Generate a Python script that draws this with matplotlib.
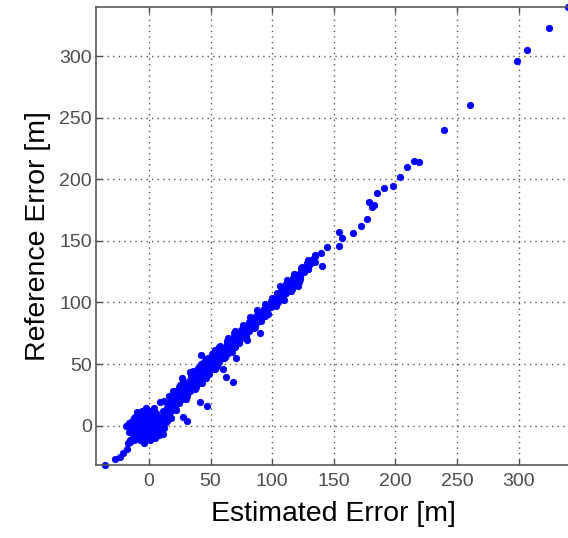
import matplotlib
matplotlib.use("Agg")
import matplotlib.pyplot as plt

# dense cluster around the origin
cluster_est = [-19, -17, -16, -15, -14, -13, -12, -12, -11, -10, -10, -9, -8, -8, -7, -6, -6, -5, -5,
               -4, -4, -3, -2, -2, -1, -1, 0, 0, 0, 1, 1, 2, 2, 3, 3, 4, 4, 5, 5, 6, 6, 7, 8, 8,
               9, 10, 10, 11, 12, 12, 13, 14, -14, -11, -9, -7, -3, 1, 5, 9, 13, -16, -12, -6,
               -2, 2, 7, 11, 15, 16, 17, 18, -13, -9, -5, -1, 3, 7, 11, -10, -6, -2, 2, 6, 10, 14]
cluster_ref = [0, -14, -5, -12, 4, -8, -12, -3, 7, -10, 2, 8, -5, -1, -12, 5, 12, -8, 3,
               -14, 10, 0, -4, 14, -7, 6, -10, -2, 3, -12, 12, -6, 8, -9, 1, -3, 14, -10, 5, -6, 10, -1, -8, 3,
               7, -4, 0, 12, -2, 5, 2, 8, -2, -6, -9, 1, 9, -3, 0, -2, 11, 2, 6, -4,
               -11, -9, 4, 9, 4, 10, 14, 6, 0, -2, 6, 2, -5, 4, -7, 11, 9, 10, 0, 1, 6, 11]

# main band along the diagonal
band_est = [15, 15, 15, 18, 18, 18, 21, 21, 21, 21, 24, 24, 24, 27, 27, 27, 27, 30, 30, 30,
            33, 33, 33, 36, 36, 36, 36, 39, 39, 39, 42, 42, 42, 42, 45, 45, 45, 45,
            48, 48, 48, 48, 51, 51, 51, 51, 54, 54, 54, 54, 57, 57, 57, 57, 60, 60, 60,
            63, 63, 63, 63, 66, 66, 66, 69, 69, 69, 69, 72, 72, 72, 75, 75, 75,
            78, 78, 78, 81, 81, 81, 84, 84, 84, 87, 87, 87, 90, 90, 90, 93, 93, 93,
            96, 96, 96, 99, 99, 99, 102, 102, 105, 105, 105, 108, 108, 108,
            111, 111, 111, 114, 114, 114, 117, 117, 117, 120, 120, 120, 123, 123, 123,
            126, 126, 129, 131, 133, 135, 19, 23, 26, 29, 32, 35, 38, 41, 44, 47, 50,
            53, 56, 59, 62, 65, 68]
band_ref = [10, 18, 14, 12, 20, 16, 15, 22, 19, 26, 18, 24, 28, 22, 26, 30, 34, 25, 29, 33,
            28, 32, 37, 31, 35, 40, 44, 34, 38, 42, 37, 41, 45, 50, 40, 44, 48, 52,
            43, 47, 51, 55, 46, 50, 54, 58, 49, 53, 57, 61, 52, 56, 60, 64, 55, 59, 63,
            58, 62, 66, 69, 61, 65, 69, 64, 68, 72, 75, 68, 71, 75, 71, 74, 78,
            74, 77, 81, 77, 80, 84, 80, 83, 87, 83, 86, 89, 86, 89, 92, 89, 92, 95,
            92, 95, 98, 96, 98, 101, 99, 103, 100, 104, 107, 106, 110, 112,
            108, 112, 115, 111, 114, 117, 114, 117, 120, 116, 119, 122, 119, 121, 124,
            125, 128, 127, 131, 135, 138, 15, 21, 23, 27, 29, 33, 36, 39, 42, 45, 48,
            51, 54, 57, 60, 63, 66]

# extra scatter widening the band
spread_est = [20, 25, 28, 31, 34, 37, 40, 43, 46, 49, 52, 55, 58, 61, 64, 67, 70, 73, 76, 79,
              82, 85, 88, 91, 94, 97, 100, 103, 106, 109, 112, 115, 118, 121, 124, 22, 30, 38,
              46, 54, 62, 70, 78, 86, 94, 104, 110, 116, 122, 128, 12, 16, 24, 35, 44, 56]
spread_ref = [28, 33, 36, 24, 41, 30, 47, 35, 54, 42, 59, 48, 65, 55, 71, 60, 77, 67, 82, 73,
              88, 79, 94, 85, 99, 91, 104, 97, 113, 104, 118, 109, 123, 113, 129, 13, 22, 31,
              39, 46, 56, 64, 72, 80, 89, 108, 102, 111, 117, 132, 20, 24, 31, 41, 38, 62]

# isolated points off the band and along the upper tail
other_est = [-35.7, -27.6, -23.5, -20.8, -18.1, -15.4,
             27.3, 31.1, 41.4, 46.8, 60.3, 62.2, 67.9, 42, 70.6, 90.1, 79.8, 19.7, 33.3, 26.5, 8.9,
             123.1, 129, 129.3, 130.1, 134.7, 134.7, 140.2, 139.6, 144.7, 154, 154.2, 156.7, 165.8,
             172, 176.7, 181, 182.9, 178.3, 184.8, 190.5, 197.8, 203.5, 209.7, 214.8, 218.9,
             239.7, 260.5, 299, 306.8, 324.7, 340]
other_ref = [-32, -26.8, -25.2, -22.5, -18.7, -13,
             6.8, 3.6, 19, 16.3, 45.9, 39.3, 35.3, 57.7, 54.8, 75.4, 69.7, 28.5, 43.9, 38.5, 19.5,
             127.6, 127.2, 134.5, 132.8, 132.5, 138.8, 129.6, 139.8, 145.3, 146.1, 157.2, 152.4, 156.1,
             162.4, 168, 177.2, 178.9, 181.9, 189.2, 192.7, 194.6, 202.2, 209.8, 215, 213.8,
             240.4, 260.5, 296.3, 305.4, 322.8, 340]

est_err = cluster_est + band_est + spread_est + other_est
ref_err = cluster_ref + band_ref + spread_ref + other_ref

plt.rcParams['font.family'] = ['Liberation Sans', 'DejaVu Sans']

fig = plt.figure(figsize=(5.68, 5.38), dpi=100)
ax = fig.add_axes([0.169, 0.1357, 0.835, 0.8513])

ax.plot(est_err, ref_err, linestyle='none', marker='o', markersize=4.6,
        markeredgewidth=0.6, color=(0, 0, 1), clip_on=False)

ax.set_xlim(-43, 342)
ax.set_ylim(-32, 340)
ax.set_xticks([0, 50, 100, 150, 200, 250, 300])
ax.set_yticks([0, 50, 100, 150, 200, 250, 300])

ax.grid(True, linestyle=(0, (1, 3)), color='0.35', linewidth=1.0)
ax.tick_params(direction='in', length=4, width=1, colors='0.3', labelsize=14,
               top=True, right=False, labelcolor='0.3')
ax.tick_params(axis='x', pad=6)
ax.tick_params(axis='y', pad=3)
for side in ['left', 'bottom', 'top']:
    ax.spines[side].set_color('0.35')
    ax.spines[side].set_linewidth(1.2)
ax.spines['right'].set_visible(False)

ax.set_xlabel('Estimated Error [m]', fontsize=20.5, labelpad=8)
ax.set_ylabel('Reference Error [m]', fontsize=20.5, labelpad=6)

fig.savefig('out.png', dpi=100)
